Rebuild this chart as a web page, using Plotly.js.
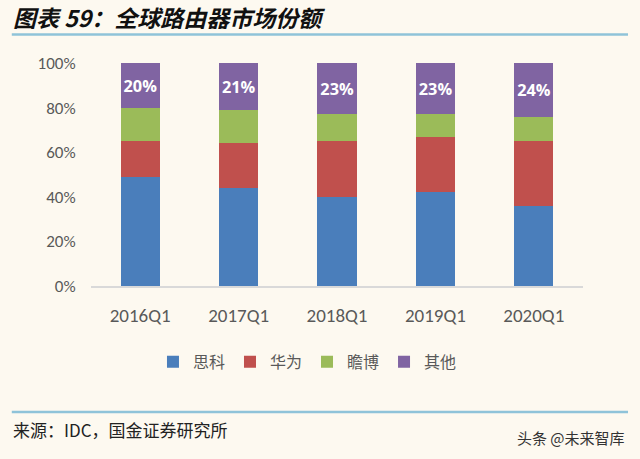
<!DOCTYPE html>
<html>
<head>
<meta charset="utf-8">
<script src="https://cdn.plot.ly/plotly-3.0.1.min.js"></script>
<style>html,body{margin:0;padding:0;background:#FDF9F0;}#chart{width:640px;height:459px;}</style>
</head>
<body>
<div id="chart"></div>
<script>
const categories = ['2016Q1', '2017Q1', '2018Q1', '2019Q1', '2020Q1'];
const seriesNames = ['思科', '华为', '瞻博', '其他'];
const cisco = [49, 44, 40, 42, 36];
const huawei = [16, 20, 25, 25, 29];
const juniper = [15, 15, 12, 10, 11];
const others = [20, 21, 23, 23, 24];
const yTicks = [0, 20, 40, 60, 80, 100];
const yTickLabels = ['0%', '20%', '40%', '60%', '80%', '100%'];

const colors = ['#4A7EBB', '#C0504D', '#9BBB59', '#8064A2'];
const values = [cisco, huawei, juniper, others];
const CJK = '"Noto Sans CJK SC", "Noto Sans", sans-serif';
const LAT = 'Calibri, Carlito, "Open Sans", "Noto Sans", sans-serif';

const traces = values.map((v, i) => {
  const t = {
    type: 'bar', x: categories, y: v, name: seriesNames[i],
    marker: {color: colors[i], line: {width: 0}},
    hoverinfo: 'none'
  };
  if (i === 3) {
    t.text = v.map(x => x + '%');
    t.textposition = 'inside';
    t.insidetextanchor = 'middle';
    t.textangle = 0;
    t.textfont = {color: '#FFFFFF', size: 17, family: '"Open Sans", sans-serif', weight: 'bold'};
    t.texttemplate = '<b>%{text}</b>';
  } else {
    t.textposition = 'none';
  }
  return t;
});

const layout = {
  width: 640, height: 459,
  paper_bgcolor: '#FDF9F0', plot_bgcolor: '#FDF9F0',
  margin: {l: 91, r: 57, t: 63, b: 173},
  barmode: 'stack', bargap: 0.6,
  showlegend: true,
  legend: {orientation: 'h', x: 0.44, xanchor: 'center', y: -0.34, yanchor: 'middle',
    font: {family: CJK, size: 16, color: '#595959'}, itemwidth: 30, traceorder: 'normal',
    bgcolor: 'rgba(0,0,0,0)', tracegroupgap: 0},
  xaxis: {type: 'category', showgrid: false, zeroline: false, showline: true,
    linecolor: '#D9D9D9', linewidth: 1.5, ticks: 'outside', ticklen: 12, tickcolor: 'rgba(0,0,0,0)',
    tickfont: {family: LAT, size: 19, color: '#595959'}},
  yaxis: {range: [0, 100], tickvals: yTicks, ticktext: yTickLabels, showgrid: false, zeroline: false,
    showline: false, ticks: 'outside', ticklen: 11, tickcolor: 'rgba(0,0,0,0)',
    tickfont: {family: LAT, size: 17, color: '#595959'}},
  shapes: [
    {type: 'line', xref: 'paper', yref: 'paper', x0: -0.161, x1: 1.0915, y0: 1.128, y1: 1.128,
      line: {color: '#8FC3D9', width: 2.5}},
    {type: 'line', xref: 'paper', yref: 'paper', x0: -0.161, x1: 1.0915, y0: -0.565, y1: -0.565,
      line: {color: '#8FC3D9', width: 2.5}}
  ],
  annotations: [
    {xref: 'paper', yref: 'paper', x: -0.163, y: 1.207, xanchor: 'left', yanchor: 'middle', showarrow: false,
      text: '<b><i>图表 59：全球路由器市场份额</i></b>', font: {family: CJK, size: 23, color: '#111111'}},
    {xref: 'paper', yref: 'paper', x: -0.163, y: -0.644, xanchor: 'left', yanchor: 'middle', showarrow: false,
      text: '来源：IDC，国金证券研究所', font: {family: CJK, size: 17, color: '#222222'}},
    {xref: 'paper', yref: 'paper', x: 1.09, y: -0.678, xanchor: 'right', yanchor: 'middle', showarrow: false,
      text: '头条 @未来智库', font: {family: CJK, size: 15, color: '#333333'}}
  ]
};

Plotly.newPlot('chart', traces, layout, {displayModeBar: false, staticPlot: true});
</script>
</body>
</html>
